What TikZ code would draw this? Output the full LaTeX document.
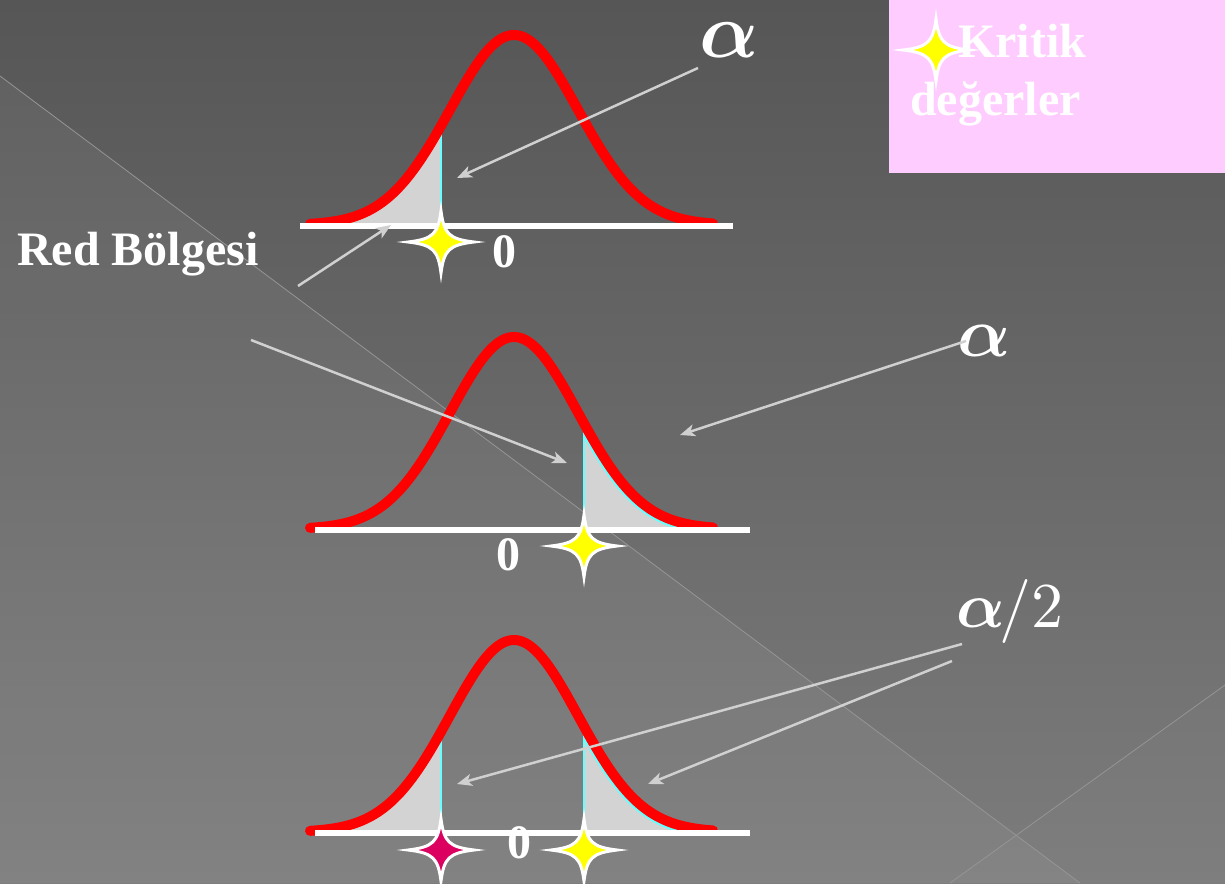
\documentclass[tikz,border=0pt]{standalone}
\usepackage{fontspec}
\setmainfont{Liberation Serif}
\usetikzlibrary{arrows.meta}
\definecolor{bgtop}{HTML}{565656}
\definecolor{bgbot}{HTML}{7C7C7C}
\definecolor{diagline}{HTML}{959595}
\definecolor{pinkbox}{HTML}{FFCCFF}
\definecolor{arrowgray}{HTML}{D0D0D0}
\definecolor{tailgray}{HTML}{D3D3D3}
\definecolor{critcyan}{HTML}{66FFFF}
\definecolor{starmag}{HTML}{DC0060}
\definecolor{staryel}{HTML}{FFFF00}
\pgfmathdeclarefunction{bell}{3}{\pgfmathparse{#2-#3*exp(-0.5*((#1-514)/64)^2)}}
\tikzset{
  redcurve/.style={draw=red, line width=10pt, line cap=round, line join=round},
  baseline line/.style={draw=white, line width=6pt},
  tailfill/.style={fill=tailgray},
  critline/.style={draw=critcyan, line width=2.5pt},
  pointer/.style={draw=arrowgray, line width=2.5pt, -{Stealth[length=15pt, width=12pt, inset=4pt]}},
  bigtext/.style={text=white, font=\fontsize{48}{57}\selectfont\bfseries, inner sep=0pt},
  greek/.style={text=white, inner sep=0pt, font=\fontsize{10}{10}\selectfont\boldmath},
  sparkle/.pic={\filldraw[pic actions] (0,-31) .. controls (3,-8) and (8,-3) .. (33,0) .. controls (8,3) and (3,8) .. (0,31) .. controls (-3,8) and (-8,3) .. (-33,0) .. controls (-8,-3) and (-3,-8) .. cycle;},
  yelstar/.style={fill=staryel, draw=white, line width=3pt, line join=miter},
  magstar/.style={fill=starmag, draw=white, line width=3pt, line join=miter},
  bellplot/.style={domain=#1, samples=90, smooth}
}
\begin{document}
\begin{tikzpicture}[x=1pt, y=-1pt]
\useasboundingbox (0,0) rectangle (1225,883);
% background
\shade[top color=bgtop, bottom color=bgbot] (0,0) rectangle (1225,883);
\fill[white, opacity=0.05] (0,76) -- (1080,883) -- (0,883) -- cycle;
\fill[white, opacity=0.02] (950,883) -- (1225,685) -- (1225,883) -- cycle;
\draw[diagline, line width=0.8pt] (0,76) -- (1080,883);
\draw[diagline, line width=0.8pt] (950,883) -- (1225,685);
% legend box
\fill[pinkbox] (889,0) rectangle (1225,173);
\pic[yelstar] at (936,50) {sparkle};
\node[bigtext, anchor=base west] (kritik) at (958,58) {Kritik};
\node[bigtext, anchor=base west] (degerler) at (910,115) {değerler};
% ---------- top curve (left tail) ----------
\fill[tailfill] (310,225) -- plot[bellplot=310:441] (\x,{bell(\x,225,190)}) -- (441,225) -- cycle;
\draw[critline] (441,{bell(441,225,190)}) -- (441,225);
\draw[redcurve] plot[bellplot=310:713] (\x,{bell(\x,225,190)});
\draw[baseline line] (300,226) -- (733,226);
\pic[yelstar] at (441,242) {sparkle};
\node[bigtext, anchor=base] (zero1) at (504,267) {0};
% ---------- middle curve (right tail) ----------
\begin{scope}
\clip (584,530) -- plot[bellplot=584:716] (\x,{bell(\x,529,192)}) -- (716,530) -- cycle;
\fill[tailfill] (584,530) rectangle (720,400);
\draw[draw=critcyan, line width=14pt] plot[bellplot=584:716] (\x,{bell(\x,529,192)});
\end{scope}
\draw[critline] (584,{bell(584,529,192)}) -- (584,529);
\draw[redcurve] plot[bellplot=310:713] (\x,{bell(\x,529,192)});
\draw[baseline line] (315,530) -- (750,530);
\pic[yelstar] at (584,546) {sparkle};
\node[bigtext, anchor=base] (zero2) at (508,570) {0};
% ---------- bottom curve (two tails) ----------
\fill[tailfill] (310,832) -- plot[bellplot=310:441] (\x,{bell(\x,832,192)}) -- (441,832) -- cycle;
\begin{scope}
\clip (584,833) -- plot[bellplot=584:716] (\x,{bell(\x,832,192)}) -- (716,833) -- cycle;
\fill[tailfill] (584,833) rectangle (720,700);
\draw[draw=critcyan, line width=14pt] plot[bellplot=584:716] (\x,{bell(\x,832,192)});
\end{scope}
\draw[critline] (441,{bell(441,832,192)}) -- (441,832);
\draw[critline] (584,{bell(584,832,192)}) -- (584,832);
\draw[redcurve] plot[bellplot=310:713] (\x,{bell(\x,832,192)});
\draw[baseline line] (315,833) -- (750,833);
\pic[magstar] at (441,850) {sparkle};
\pic[yelstar] at (584,850) {sparkle};
\node[bigtext, anchor=base] (zero3) at (519,858) {0};
% ---------- labels ----------
\node[bigtext, anchor=base west] (red) at (17,265) {Red Bölgesi};
\node[greek, anchor=base, scale=7.8] (alpha1) at (729,57) {$\alpha$};
\node[greek, anchor=base, scale=7.0] (alpha2) at (984,356) {$\alpha$};
\node[greek, anchor=base, scale=6.4] (alpha3) at (1010,627) {$\alpha$\kern-0.8pt{\unboldmath$/2$}};
% ---------- pointers ----------
\coordinate (a1s) at (698,68);   \coordinate (a1t) at (457,178);
\coordinate (r1s) at (298,286);  \coordinate (r1t) at (391,225);
\coordinate (r2s) at (251,340);  \coordinate (r2t) at (567,463);
\coordinate (a2s) at (966,341);  \coordinate (a2t) at (680,435);
\coordinate (a3s) at (962,644);  \coordinate (a3t) at (457,784);
\coordinate (a4s) at (952,661);  \coordinate (a4t) at (648,784);
\draw[pointer] (a1s) -- (a1t);
\draw[pointer] (r1s) -- (r1t);
\draw[pointer] (r2s) -- (r2t);
\draw[pointer] (a2s) -- (a2t);
\draw[pointer] (a3s) -- (a3t);
\draw[pointer] (a4s) -- (a4t);
\end{tikzpicture}
\end{document}
